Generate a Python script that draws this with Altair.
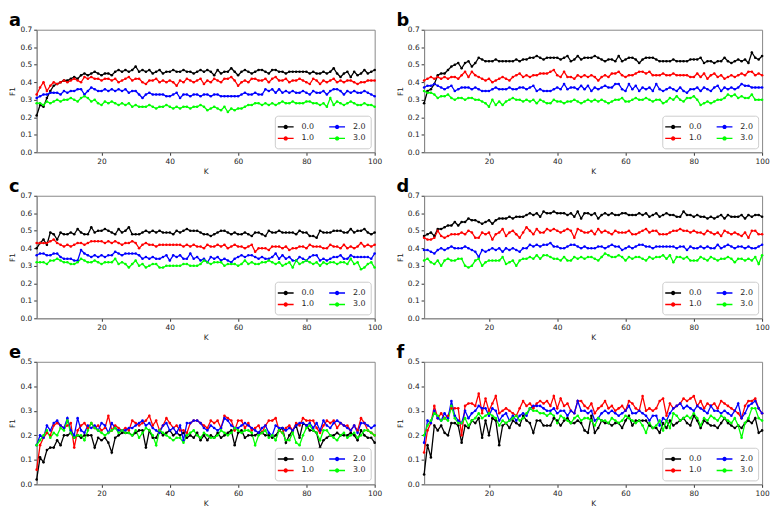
import altair as alt
import pandas as pd

K = list(range(1, 101))
SERIES = ["0.0", "1.0", "2.0", "3.0"]

# ---------------- panel a ----------------
A_00 = [0.21, 0.27, 0.26, 0.31, 0.35, 0.38, 0.39, 0.40, 0.41, 0.41,
        0.42, 0.43, 0.42, 0.44, 0.45, 0.44, 0.45, 0.46, 0.45, 0.44,
        0.45, 0.45, 0.44, 0.46, 0.47, 0.46, 0.47, 0.46, 0.47, 0.49,
        0.46, 0.47, 0.46, 0.47, 0.45, 0.46, 0.47, 0.45, 0.46, 0.46,
        0.47, 0.46, 0.46, 0.47, 0.46, 0.46, 0.45, 0.46, 0.47, 0.46,
        0.47, 0.46, 0.44, 0.47, 0.45, 0.46, 0.46, 0.48, 0.46, 0.44,
        0.46, 0.47, 0.46, 0.45, 0.46, 0.47, 0.47, 0.46, 0.45, 0.47,
        0.47, 0.46, 0.46, 0.45, 0.46, 0.46, 0.46, 0.46, 0.46, 0.46,
        0.45, 0.46, 0.45, 0.45, 0.46, 0.45, 0.46, 0.48, 0.45, 0.43,
        0.45, 0.46, 0.43, 0.46, 0.44, 0.45, 0.47, 0.45, 0.46, 0.47]
A_10 = [0.33, 0.37, 0.40, 0.35, 0.38, 0.40, 0.39, 0.40, 0.41, 0.40,
        0.41, 0.42, 0.41, 0.40, 0.43, 0.42, 0.43, 0.42, 0.42, 0.41,
        0.42, 0.42, 0.41, 0.42, 0.40, 0.41, 0.42, 0.43, 0.41, 0.42,
        0.42, 0.40, 0.39, 0.41, 0.41, 0.42, 0.40, 0.41, 0.40, 0.41,
        0.40, 0.38, 0.41, 0.40, 0.42, 0.41, 0.40, 0.41, 0.42, 0.39,
        0.41, 0.40, 0.42, 0.41, 0.40, 0.42, 0.42, 0.43, 0.41, 0.38,
        0.40, 0.41, 0.40, 0.42, 0.42, 0.41, 0.41, 0.42, 0.40, 0.42,
        0.43, 0.41, 0.41, 0.42, 0.40, 0.41, 0.41, 0.42, 0.41, 0.40,
        0.39, 0.42, 0.41, 0.39, 0.41, 0.40, 0.41, 0.42, 0.40, 0.41,
        0.40, 0.41, 0.41, 0.40, 0.39, 0.40, 0.40, 0.41, 0.41, 0.41]
A_20 = [0.31, 0.32, 0.33, 0.33, 0.34, 0.34, 0.34, 0.33, 0.35, 0.34,
        0.35, 0.35, 0.36, 0.36, 0.33, 0.35, 0.37, 0.36, 0.35, 0.35,
        0.36, 0.35, 0.36, 0.35, 0.36, 0.35, 0.36, 0.34, 0.35, 0.35,
        0.33, 0.31, 0.33, 0.34, 0.33, 0.33, 0.33, 0.33, 0.32, 0.32,
        0.33, 0.34, 0.31, 0.33, 0.33, 0.32, 0.33, 0.33, 0.32, 0.33,
        0.33, 0.32, 0.33, 0.33, 0.32, 0.32, 0.32, 0.32, 0.32, 0.32,
        0.33, 0.34, 0.33, 0.33, 0.34, 0.33, 0.33, 0.36, 0.35, 0.36,
        0.34, 0.36, 0.34, 0.35, 0.34, 0.35, 0.34, 0.34, 0.35, 0.34,
        0.33, 0.35, 0.34, 0.34, 0.35, 0.33, 0.35, 0.36, 0.36, 0.35,
        0.33, 0.35, 0.34, 0.35, 0.34, 0.34, 0.35, 0.34, 0.33, 0.32]
A_30 = [0.28, 0.28, 0.27, 0.29, 0.28, 0.29, 0.30, 0.29, 0.30, 0.30,
        0.31, 0.30, 0.29, 0.31, 0.32, 0.31, 0.29, 0.30, 0.28, 0.27,
        0.29, 0.28, 0.29, 0.28, 0.27, 0.28, 0.27, 0.28, 0.26, 0.27,
        0.26, 0.26, 0.26, 0.27, 0.26, 0.25, 0.26, 0.26, 0.27, 0.26,
        0.25, 0.26, 0.25, 0.26, 0.26, 0.25, 0.26, 0.26, 0.27, 0.26,
        0.24, 0.25, 0.26, 0.25, 0.24, 0.26, 0.23, 0.25, 0.24, 0.25,
        0.25, 0.26, 0.27, 0.27, 0.28, 0.28, 0.27, 0.28, 0.27, 0.28,
        0.27, 0.28, 0.29, 0.28, 0.28, 0.29, 0.28, 0.28, 0.28, 0.29,
        0.29, 0.28, 0.28, 0.27, 0.28, 0.26, 0.31, 0.27, 0.29, 0.28,
        0.27, 0.28, 0.29, 0.28, 0.27, 0.27, 0.28, 0.27, 0.27, 0.26]

# ---------------- panel b ----------------
B_00 = [0.28, 0.35, 0.36, 0.39, 0.44, 0.45, 0.45, 0.47, 0.49, 0.50,
        0.51, 0.48, 0.51, 0.52, 0.49, 0.51, 0.54, 0.53, 0.52, 0.52,
        0.52, 0.53, 0.52, 0.52, 0.52, 0.52, 0.52, 0.53, 0.52, 0.53,
        0.53, 0.54, 0.54, 0.55, 0.54, 0.53, 0.54, 0.54, 0.54, 0.54,
        0.53, 0.54, 0.55, 0.52, 0.53, 0.55, 0.53, 0.54, 0.54, 0.54,
        0.55, 0.54, 0.53, 0.52, 0.53, 0.53, 0.52, 0.55, 0.52, 0.53,
        0.54, 0.54, 0.53, 0.51, 0.53, 0.54, 0.54, 0.54, 0.53, 0.52,
        0.52, 0.52, 0.52, 0.53, 0.52, 0.52, 0.52, 0.52, 0.53, 0.53,
        0.53, 0.54, 0.51, 0.52, 0.52, 0.51, 0.52, 0.52, 0.54, 0.52,
        0.51, 0.52, 0.53, 0.52, 0.53, 0.51, 0.57, 0.54, 0.53, 0.55]
B_10 = [0.41, 0.42, 0.43, 0.42, 0.43, 0.42, 0.43, 0.42, 0.43, 0.43,
        0.42, 0.44, 0.46, 0.43, 0.46, 0.44, 0.43, 0.42, 0.41, 0.42,
        0.40, 0.41, 0.42, 0.43, 0.42, 0.41, 0.43, 0.44, 0.45, 0.43,
        0.44, 0.43, 0.44, 0.44, 0.45, 0.45, 0.45, 0.46, 0.47, 0.44,
        0.43, 0.46, 0.43, 0.43, 0.42, 0.44, 0.43, 0.44, 0.43, 0.44,
        0.43, 0.41, 0.43, 0.44, 0.43, 0.45, 0.45, 0.46, 0.44, 0.43,
        0.44, 0.44, 0.45, 0.46, 0.46, 0.45, 0.46, 0.44, 0.44, 0.44,
        0.45, 0.44, 0.44, 0.45, 0.44, 0.44, 0.44, 0.44, 0.43, 0.43,
        0.45, 0.43, 0.45, 0.42, 0.44, 0.45, 0.43, 0.44, 0.42, 0.43,
        0.44, 0.43, 0.44, 0.45, 0.44, 0.46, 0.46, 0.44, 0.45, 0.44]
B_20 = [0.37, 0.38, 0.38, 0.39, 0.38, 0.37, 0.36, 0.37, 0.38, 0.35,
        0.36, 0.37, 0.37, 0.37, 0.36, 0.37, 0.36, 0.35, 0.35, 0.35,
        0.36, 0.37, 0.36, 0.36, 0.36, 0.37, 0.36, 0.36, 0.37, 0.37,
        0.36, 0.37, 0.38, 0.35, 0.36, 0.35, 0.35, 0.35, 0.36, 0.37,
        0.36, 0.39, 0.36, 0.37, 0.37, 0.36, 0.38, 0.36, 0.38, 0.35,
        0.37, 0.36, 0.37, 0.38, 0.37, 0.37, 0.39, 0.39, 0.36, 0.35,
        0.39, 0.36, 0.38, 0.35, 0.37, 0.36, 0.37, 0.35, 0.39, 0.36,
        0.35, 0.36, 0.37, 0.36, 0.35, 0.37, 0.35, 0.34, 0.36, 0.36,
        0.37, 0.35, 0.37, 0.36, 0.35, 0.37, 0.38, 0.35, 0.37, 0.36,
        0.37, 0.36, 0.37, 0.39, 0.38, 0.38, 0.37, 0.37, 0.37, 0.37]
B_30 = [0.35, 0.34, 0.34, 0.33, 0.31, 0.32, 0.32, 0.33, 0.31, 0.30,
        0.31, 0.31, 0.30, 0.31, 0.31, 0.30, 0.30, 0.29, 0.28, 0.26,
        0.30, 0.27, 0.29, 0.27, 0.29, 0.30, 0.31, 0.30, 0.30, 0.29,
        0.30, 0.29, 0.30, 0.28, 0.30, 0.29, 0.28, 0.28, 0.30, 0.29,
        0.29, 0.28, 0.29, 0.29, 0.30, 0.29, 0.28, 0.29, 0.30, 0.29,
        0.30, 0.29, 0.30, 0.29, 0.28, 0.29, 0.30, 0.30, 0.31, 0.29,
        0.29, 0.30, 0.31, 0.30, 0.30, 0.31, 0.30, 0.29, 0.30, 0.30,
        0.28, 0.29, 0.31, 0.30, 0.32, 0.30, 0.29, 0.31, 0.31, 0.32,
        0.30, 0.27, 0.28, 0.29, 0.28, 0.29, 0.30, 0.30, 0.31, 0.33,
        0.32, 0.33, 0.31, 0.32, 0.31, 0.31, 0.33, 0.30, 0.30, 0.30]

# ---------------- panel c ----------------
C_00 = [0.40, 0.43, 0.45, 0.42, 0.49, 0.48, 0.45, 0.49, 0.48, 0.48,
        0.49, 0.48, 0.51, 0.49, 0.48, 0.48, 0.52, 0.49, 0.50, 0.50,
        0.51, 0.50, 0.49, 0.48, 0.51, 0.49, 0.50, 0.52, 0.48, 0.48,
        0.48, 0.49, 0.50, 0.49, 0.50, 0.49, 0.50, 0.49, 0.49, 0.49,
        0.48, 0.50, 0.49, 0.50, 0.51, 0.50, 0.50, 0.50, 0.49, 0.48,
        0.48, 0.47, 0.48, 0.49, 0.50, 0.50, 0.49, 0.48, 0.49, 0.48,
        0.48, 0.49, 0.48, 0.47, 0.49, 0.49, 0.48, 0.47, 0.50, 0.49,
        0.49, 0.50, 0.49, 0.49, 0.49, 0.49, 0.48, 0.50, 0.49, 0.49,
        0.47, 0.47, 0.46, 0.50, 0.49, 0.49, 0.49, 0.50, 0.50, 0.50,
        0.49, 0.49, 0.51, 0.49, 0.50, 0.50, 0.51, 0.49, 0.48, 0.49]
C_10 = [0.43, 0.43, 0.43, 0.43, 0.44, 0.45, 0.43, 0.42, 0.41, 0.42,
        0.41, 0.42, 0.43, 0.43, 0.42, 0.43, 0.44, 0.44, 0.44, 0.44,
        0.43, 0.44, 0.43, 0.44, 0.43, 0.42, 0.43, 0.43, 0.44, 0.43,
        0.40, 0.42, 0.43, 0.42, 0.42, 0.41, 0.42, 0.42, 0.42, 0.42,
        0.42, 0.42, 0.42, 0.41, 0.42, 0.41, 0.42, 0.41, 0.41, 0.40,
        0.42, 0.41, 0.41, 0.42, 0.41, 0.42, 0.40, 0.41, 0.42, 0.41,
        0.41, 0.40, 0.41, 0.42, 0.38, 0.40, 0.40, 0.40, 0.39, 0.41,
        0.41, 0.41, 0.40, 0.41, 0.39, 0.40, 0.40, 0.41, 0.41, 0.40,
        0.42, 0.41, 0.41, 0.41, 0.40, 0.40, 0.42, 0.41, 0.41, 0.40,
        0.42, 0.40, 0.41, 0.40, 0.41, 0.43, 0.41, 0.42, 0.41, 0.42]
C_20 = [0.36, 0.37, 0.37, 0.36, 0.36, 0.37, 0.37, 0.35, 0.34, 0.34,
        0.34, 0.33, 0.33, 0.39, 0.37, 0.36, 0.35, 0.36, 0.35, 0.36,
        0.35, 0.36, 0.36, 0.38, 0.37, 0.36, 0.37, 0.37, 0.37, 0.37,
        0.36, 0.34, 0.35, 0.34, 0.35, 0.34, 0.34, 0.35, 0.36, 0.33,
        0.36, 0.35, 0.36, 0.34, 0.34, 0.37, 0.34, 0.35, 0.33, 0.34,
        0.32, 0.35, 0.34, 0.35, 0.33, 0.34, 0.33, 0.32, 0.34, 0.35,
        0.36, 0.35, 0.36, 0.36, 0.35, 0.34, 0.35, 0.34, 0.34, 0.35,
        0.37, 0.34, 0.36, 0.34, 0.35, 0.33, 0.33, 0.35, 0.34, 0.33,
        0.35, 0.36, 0.36, 0.33, 0.34, 0.33, 0.34, 0.35, 0.35, 0.36,
        0.34, 0.34, 0.36, 0.35, 0.35, 0.35, 0.35, 0.35, 0.34, 0.37]
C_30 = [0.32, 0.32, 0.32, 0.31, 0.33, 0.33, 0.34, 0.33, 0.32, 0.32,
        0.31, 0.31, 0.32, 0.34, 0.33, 0.32, 0.32, 0.33, 0.32, 0.31,
        0.32, 0.32, 0.32, 0.34, 0.31, 0.32, 0.31, 0.29, 0.31, 0.33,
        0.30, 0.31, 0.29, 0.30, 0.31, 0.31, 0.29, 0.29, 0.30, 0.30,
        0.30, 0.30, 0.30, 0.31, 0.31, 0.30, 0.30, 0.30, 0.31, 0.33,
        0.32, 0.31, 0.32, 0.32, 0.32, 0.30, 0.31, 0.31, 0.31, 0.30,
        0.31, 0.33, 0.31, 0.32, 0.31, 0.31, 0.32, 0.32, 0.33, 0.32,
        0.31, 0.32, 0.30, 0.31, 0.32, 0.29, 0.33, 0.31, 0.32, 0.33,
        0.32, 0.31, 0.32, 0.30, 0.32, 0.31, 0.32, 0.32, 0.31, 0.32,
        0.32, 0.31, 0.34, 0.31, 0.32, 0.28, 0.29, 0.31, 0.32, 0.29]

# ---------------- panel d ----------------
D_00 = [0.47, 0.48, 0.49, 0.47, 0.51, 0.51, 0.52, 0.53, 0.53, 0.55,
        0.53, 0.55, 0.55, 0.57, 0.56, 0.56, 0.55, 0.54, 0.55, 0.56,
        0.54, 0.56, 0.57, 0.57, 0.57, 0.58, 0.57, 0.58, 0.58, 0.58,
        0.59, 0.60, 0.59, 0.60, 0.58, 0.61, 0.60, 0.60, 0.61, 0.60,
        0.60, 0.60, 0.59, 0.60, 0.58, 0.61, 0.57, 0.60, 0.60, 0.59,
        0.60, 0.57, 0.59, 0.60, 0.59, 0.60, 0.59, 0.59, 0.60, 0.60,
        0.59, 0.59, 0.59, 0.60, 0.59, 0.60, 0.58, 0.59, 0.60, 0.58,
        0.59, 0.60, 0.59, 0.59, 0.58, 0.58, 0.61, 0.59, 0.59, 0.58,
        0.59, 0.58, 0.58, 0.57, 0.58, 0.57, 0.58, 0.59, 0.57, 0.59,
        0.58, 0.58, 0.58, 0.59, 0.57, 0.59, 0.58, 0.59, 0.59, 0.58]
D_10 = [0.46, 0.45, 0.45, 0.46, 0.50, 0.47, 0.46, 0.47, 0.48, 0.48,
        0.48, 0.49, 0.48, 0.50, 0.49, 0.46, 0.46, 0.49, 0.48, 0.49,
        0.45, 0.48, 0.49, 0.51, 0.47, 0.49, 0.50, 0.48, 0.46, 0.49,
        0.52, 0.50, 0.48, 0.51, 0.49, 0.49, 0.51, 0.50, 0.51, 0.50,
        0.49, 0.50, 0.51, 0.50, 0.46, 0.51, 0.50, 0.49, 0.49, 0.50,
        0.48, 0.51, 0.49, 0.50, 0.49, 0.48, 0.50, 0.49, 0.49, 0.49,
        0.50, 0.48, 0.48, 0.49, 0.50, 0.51, 0.49, 0.50, 0.50, 0.48,
        0.48, 0.48, 0.49, 0.50, 0.50, 0.51, 0.50, 0.50, 0.49, 0.50,
        0.49, 0.49, 0.48, 0.50, 0.49, 0.48, 0.49, 0.47, 0.50, 0.49,
        0.48, 0.49, 0.48, 0.47, 0.49, 0.46, 0.50, 0.50, 0.48, 0.48]
D_20 = [0.39, 0.39, 0.38, 0.37, 0.39, 0.40, 0.39, 0.40, 0.41, 0.40,
        0.40, 0.40, 0.41, 0.40, 0.39, 0.38, 0.35, 0.39, 0.38, 0.39,
        0.40, 0.39, 0.40, 0.38, 0.40, 0.39, 0.40, 0.39, 0.38, 0.40,
        0.40, 0.42, 0.41, 0.42, 0.41, 0.42, 0.42, 0.43, 0.41, 0.41,
        0.40, 0.40, 0.41, 0.42, 0.42, 0.41, 0.40, 0.41, 0.40, 0.40,
        0.40, 0.41, 0.41, 0.40, 0.41, 0.42, 0.41, 0.41, 0.39, 0.40,
        0.41, 0.40, 0.41, 0.42, 0.42, 0.41, 0.41, 0.40, 0.41, 0.41,
        0.41, 0.41, 0.41, 0.41, 0.40, 0.41, 0.41, 0.39, 0.41, 0.40,
        0.40, 0.41, 0.40, 0.41, 0.40, 0.40, 0.42, 0.40, 0.41, 0.42,
        0.41, 0.40, 0.41, 0.41, 0.40, 0.41, 0.40, 0.40, 0.41, 0.42]
D_30 = [0.33, 0.34, 0.32, 0.31, 0.33, 0.30, 0.33, 0.34, 0.33, 0.33,
        0.34, 0.34, 0.30, 0.29, 0.30, 0.33, 0.34, 0.30, 0.32, 0.33,
        0.33, 0.33, 0.33, 0.35, 0.31, 0.32, 0.33, 0.30, 0.33, 0.34,
        0.34, 0.35, 0.34, 0.36, 0.34, 0.36, 0.36, 0.35, 0.34, 0.34,
        0.33, 0.35, 0.33, 0.33, 0.35, 0.34, 0.35, 0.34, 0.35, 0.35,
        0.34, 0.33, 0.35, 0.37, 0.36, 0.35, 0.35, 0.36, 0.35, 0.33,
        0.35, 0.34, 0.35, 0.35, 0.34, 0.33, 0.35, 0.34, 0.35, 0.35,
        0.36, 0.34, 0.36, 0.32, 0.35, 0.35, 0.34, 0.35, 0.33, 0.33,
        0.33, 0.35, 0.34, 0.33, 0.35, 0.34, 0.33, 0.34, 0.34, 0.35,
        0.34, 0.32, 0.34, 0.34, 0.33, 0.34, 0.33, 0.35, 0.31, 0.36]

# ---------------- panel e ----------------
E_00 = [0.02, 0.11, 0.09, 0.14, 0.15, 0.15, 0.18, 0.16, 0.20, 0.20,
        0.21, 0.19, 0.20, 0.19, 0.20, 0.20, 0.20, 0.15, 0.19, 0.18,
        0.19, 0.17, 0.13, 0.19, 0.20, 0.21, 0.21, 0.21, 0.20, 0.21,
        0.22, 0.22, 0.15, 0.22, 0.19, 0.19, 0.22, 0.20, 0.21, 0.22,
        0.20, 0.21, 0.20, 0.21, 0.19, 0.20, 0.19, 0.21, 0.18, 0.20,
        0.18, 0.20, 0.19, 0.21, 0.19, 0.20, 0.21, 0.22, 0.16, 0.21,
        0.22, 0.19, 0.20, 0.20, 0.20, 0.21, 0.21, 0.20, 0.20, 0.19,
        0.20, 0.22, 0.23, 0.17, 0.20, 0.22, 0.24, 0.19, 0.25, 0.24,
        0.22, 0.22, 0.21, 0.15, 0.18, 0.19, 0.20, 0.20, 0.21, 0.20,
        0.20, 0.20, 0.21, 0.20, 0.18, 0.22, 0.20, 0.19, 0.19, 0.17]
E_10 = [0.06, 0.16, 0.19, 0.21, 0.20, 0.24, 0.25, 0.24, 0.23, 0.24,
        0.25, 0.15, 0.22, 0.24, 0.25, 0.23, 0.25, 0.23, 0.24, 0.22,
        0.23, 0.28, 0.22, 0.24, 0.23, 0.22, 0.23, 0.22, 0.26, 0.25,
        0.24, 0.25, 0.26, 0.28, 0.24, 0.26, 0.22, 0.24, 0.27, 0.25,
        0.23, 0.24, 0.22, 0.22, 0.21, 0.25, 0.26, 0.26, 0.25, 0.24,
        0.23, 0.26, 0.25, 0.26, 0.23, 0.28, 0.27, 0.26, 0.22, 0.26,
        0.26, 0.23, 0.25, 0.22, 0.23, 0.24, 0.21, 0.24, 0.26, 0.26,
        0.27, 0.22, 0.21, 0.23, 0.24, 0.22, 0.25, 0.24, 0.27, 0.26,
        0.26, 0.26, 0.23, 0.21, 0.24, 0.26, 0.25, 0.26, 0.23, 0.25,
        0.24, 0.24, 0.22, 0.24, 0.22, 0.27, 0.25, 0.22, 0.21, 0.20]
E_20 = [0.16, 0.20, 0.19, 0.24, 0.22, 0.25, 0.26, 0.24, 0.23, 0.27,
        0.22, 0.20, 0.27, 0.22, 0.21, 0.24, 0.23, 0.24, 0.22, 0.25,
        0.24, 0.21, 0.25, 0.23, 0.22, 0.22, 0.22, 0.23, 0.23, 0.24,
        0.25, 0.26, 0.24, 0.25, 0.23, 0.22, 0.21, 0.24, 0.25, 0.22,
        0.23, 0.21, 0.24, 0.18, 0.25, 0.25, 0.26, 0.26, 0.25, 0.23,
        0.22, 0.24, 0.23, 0.22, 0.23, 0.27, 0.26, 0.24, 0.23, 0.23,
        0.24, 0.25, 0.24, 0.23, 0.22, 0.21, 0.23, 0.24, 0.21, 0.20,
        0.24, 0.23, 0.23, 0.22, 0.23, 0.22, 0.24, 0.25, 0.25, 0.24,
        0.25, 0.23, 0.25, 0.22, 0.26, 0.24, 0.23, 0.25, 0.26, 0.25,
        0.24, 0.23, 0.22, 0.24, 0.21, 0.25, 0.25, 0.24, 0.23, 0.24]
E_30 = [0.16, 0.18, 0.20, 0.22, 0.19, 0.21, 0.20, 0.23, 0.22, 0.26,
        0.21, 0.19, 0.20, 0.20, 0.18, 0.22, 0.25, 0.23, 0.22, 0.21,
        0.20, 0.21, 0.22, 0.23, 0.21, 0.22, 0.21, 0.21, 0.20, 0.22,
        0.19, 0.21, 0.23, 0.22, 0.20, 0.16, 0.22, 0.21, 0.20, 0.19,
        0.18, 0.19, 0.19, 0.17, 0.20, 0.21, 0.22, 0.20, 0.19, 0.21,
        0.20, 0.19, 0.19, 0.20, 0.22, 0.21, 0.20, 0.21, 0.23, 0.22,
        0.21, 0.22, 0.22, 0.21, 0.16, 0.20, 0.21, 0.22, 0.19, 0.20,
        0.18, 0.22, 0.21, 0.18, 0.18, 0.21, 0.17, 0.16, 0.20, 0.23,
        0.24, 0.22, 0.21, 0.18, 0.22, 0.22, 0.20, 0.19, 0.18, 0.20,
        0.21, 0.19, 0.20, 0.21, 0.19, 0.20, 0.22, 0.22, 0.21, 0.20]

# ---------------- panel f ----------------
F_00 = [0.04, 0.16, 0.11, 0.24, 0.22, 0.24, 0.21, 0.20, 0.25, 0.25,
        0.24, 0.17, 0.24, 0.23, 0.26, 0.25, 0.27, 0.19, 0.26, 0.20,
        0.27, 0.26, 0.16, 0.24, 0.25, 0.23, 0.26, 0.25, 0.24, 0.28,
        0.26, 0.25, 0.21, 0.26, 0.26, 0.24, 0.24, 0.24, 0.27, 0.26,
        0.24, 0.26, 0.27, 0.25, 0.25, 0.26, 0.25, 0.22, 0.21, 0.28,
        0.21, 0.23, 0.26, 0.25, 0.25, 0.24, 0.25, 0.25, 0.23, 0.26,
        0.28, 0.24, 0.26, 0.26, 0.26, 0.26, 0.24, 0.23, 0.23, 0.21,
        0.25, 0.23, 0.26, 0.24, 0.25, 0.26, 0.27, 0.25, 0.24, 0.28,
        0.26, 0.23, 0.26, 0.25, 0.24, 0.24, 0.23, 0.25, 0.27, 0.25,
        0.24, 0.23, 0.24, 0.23, 0.25, 0.26, 0.25, 0.27, 0.21, 0.22]
F_10 = [0.13, 0.22, 0.25, 0.32, 0.27, 0.29, 0.27, 0.28, 0.31, 0.31,
        0.31, 0.20, 0.32, 0.33, 0.33, 0.32, 0.37, 0.29, 0.35, 0.30,
        0.33, 0.36, 0.29, 0.30, 0.31, 0.30, 0.29, 0.28, 0.31, 0.34,
        0.32, 0.33, 0.31, 0.33, 0.34, 0.33, 0.34, 0.32, 0.36, 0.31,
        0.35, 0.32, 0.33, 0.30, 0.29, 0.34, 0.34, 0.32, 0.31, 0.33,
        0.29, 0.31, 0.32, 0.34, 0.31, 0.32, 0.30, 0.31, 0.32, 0.30,
        0.34, 0.33, 0.31, 0.30, 0.36, 0.30, 0.31, 0.30, 0.31, 0.34,
        0.35, 0.28, 0.33, 0.31, 0.32, 0.33, 0.35, 0.34, 0.35, 0.36,
        0.32, 0.34, 0.31, 0.33, 0.32, 0.33, 0.31, 0.34, 0.33, 0.32,
        0.31, 0.30, 0.29, 0.27, 0.32, 0.34, 0.34, 0.35, 0.31, 0.29]
F_20 = [0.17, 0.26, 0.25, 0.30, 0.27, 0.26, 0.29, 0.27, 0.34, 0.28,
        0.26, 0.25, 0.30, 0.27, 0.29, 0.30, 0.32, 0.31, 0.31, 0.28,
        0.31, 0.30, 0.26, 0.28, 0.29, 0.26, 0.28, 0.26, 0.28, 0.29,
        0.28, 0.31, 0.32, 0.32, 0.32, 0.31, 0.30, 0.30, 0.31, 0.29,
        0.30, 0.30, 0.28, 0.30, 0.29, 0.34, 0.30, 0.30, 0.29, 0.30,
        0.26, 0.27, 0.29, 0.30, 0.29, 0.30, 0.29, 0.28, 0.29, 0.30,
        0.32, 0.29, 0.29, 0.30, 0.29, 0.28, 0.26, 0.28, 0.28, 0.24,
        0.27, 0.26, 0.29, 0.31, 0.32, 0.33, 0.31, 0.32, 0.31, 0.30,
        0.32, 0.31, 0.30, 0.29, 0.32, 0.30, 0.30, 0.29, 0.30, 0.29,
        0.28, 0.30, 0.33, 0.27, 0.29, 0.32, 0.33, 0.34, 0.31, 0.29]
F_30 = [0.20, 0.24, 0.26, 0.29, 0.28, 0.26, 0.27, 0.26, 0.32, 0.27,
        0.25, 0.25, 0.27, 0.24, 0.26, 0.27, 0.29, 0.27, 0.28, 0.29,
        0.28, 0.27, 0.24, 0.26, 0.25, 0.26, 0.27, 0.28, 0.26, 0.27,
        0.29, 0.31, 0.30, 0.30, 0.29, 0.29, 0.28, 0.29, 0.28, 0.25,
        0.28, 0.27, 0.26, 0.25, 0.27, 0.28, 0.26, 0.27, 0.27, 0.26,
        0.24, 0.27, 0.26, 0.26, 0.25, 0.27, 0.26, 0.25, 0.26, 0.28,
        0.27, 0.26, 0.25, 0.26, 0.24, 0.21, 0.25, 0.23, 0.24, 0.26,
        0.22, 0.26, 0.23, 0.29, 0.28, 0.26, 0.27, 0.28, 0.27, 0.29,
        0.27, 0.24, 0.27, 0.26, 0.28, 0.27, 0.26, 0.28, 0.27, 0.26,
        0.25, 0.27, 0.24, 0.19, 0.25, 0.27, 0.31, 0.31, 0.27, 0.26]

PANELS = [
    ("a", [A_00, A_10, A_20, A_30], 0.7),
    ("b", [B_00, B_10, B_20, B_30], 0.7),
    ("c", [C_00, C_10, C_20, C_30], 0.7),
    ("d", [D_00, D_10, D_20, D_30], 0.7),
    ("e", [E_00, E_10, E_20, E_30], 0.5),
    ("f", [F_00, F_10, F_20, F_30], 0.5),
]

COLORS = ["#000000", "#ff0000", "#0000ff", "#00ff00"]
FONT = "DejaVu Sans"
SYMBOL = "M-1.6,0H1.6M0,-0.3A0.3,0.3 0 1 1 0,0.3A0.3,0.3 0 1 1 0,-0.3"

W, H = 342, 124


def panel(letter, series_lists, ymax):
    rows = []
    for name, vals in zip(SERIES, series_lists):
        for k, v in zip(K, vals):
            rows.append({"K": k, "F1": v, "series": name})
    df = pd.DataFrame(rows)
    nt = int(round(ymax * 10))
    yticks = [round(i / 10, 1) for i in range(nt + 1)]
    color = alt.Color(
        "series:N",
        scale=alt.Scale(domain=SERIES, range=COLORS),
        legend=alt.Legend(
            title=None, orient="bottom-right", columns=2, offset=4,
            padding=5, strokeColor="#cccccc", fillColor="white",
            cornerRadius=3, labelFont=FONT, labelFontSize=8,
            labelColor="#222222", symbolType=SYMBOL, symbolSize=100,
            symbolStrokeWidth=1.4, columnPadding=12, rowPadding=1,
            labelOffset=10,
        ),
    )
    base = alt.Chart(df).encode(
        x=alt.X("K:Q", scale=alt.Scale(domain=[1, 100], nice=False, zero=False),
                axis=alt.Axis(values=[20, 40, 60, 80, 100], title="K")),
        y=alt.Y("F1:Q", scale=alt.Scale(domain=[0, ymax], nice=False),
                axis=alt.Axis(values=yticks, format=".1f", title="F1")),
        color=color,
    )
    line = base.mark_line(strokeWidth=1.3).encode(order="K:Q")
    pts = base.mark_circle(size=7, opacity=1)
    return alt.layer(line, pts).properties(
        width=W, height=H,
        title=alt.TitleParams(letter, anchor="start", frame="bounds",
                              fontSize=18, fontWeight="bold", font=FONT,
                              color="#000000", offset=-4),
    )


charts = [panel(l, s, m) for l, s, m in PANELS]

chart = alt.concat(
    *charts, columns=2, bounds="flush",
    spacing=alt.RowColnumber(row=44, column=50),
).resolve_scale(
    color="independent", x="independent", y="independent",
).resolve_legend(
    color="independent",
).properties(
    padding=0,
).configure_view(
    stroke="#888888", strokeWidth=1,
).configure_axis(
    grid=False, domainColor="#888888", domainWidth=1, tickColor="#333333",
    tickSize=3, labelFont=FONT, labelFontSize=7.5, labelColor="#222222",
    labelPadding=2, titleFont=FONT, titleFontSize=7.5,
    titleFontWeight="normal", titleColor="#222222", titlePadding=3,
).configure_axisX(labelFlush=False)

chart.save("out.html", embed_options={"renderer": "svg", "actions": False})
